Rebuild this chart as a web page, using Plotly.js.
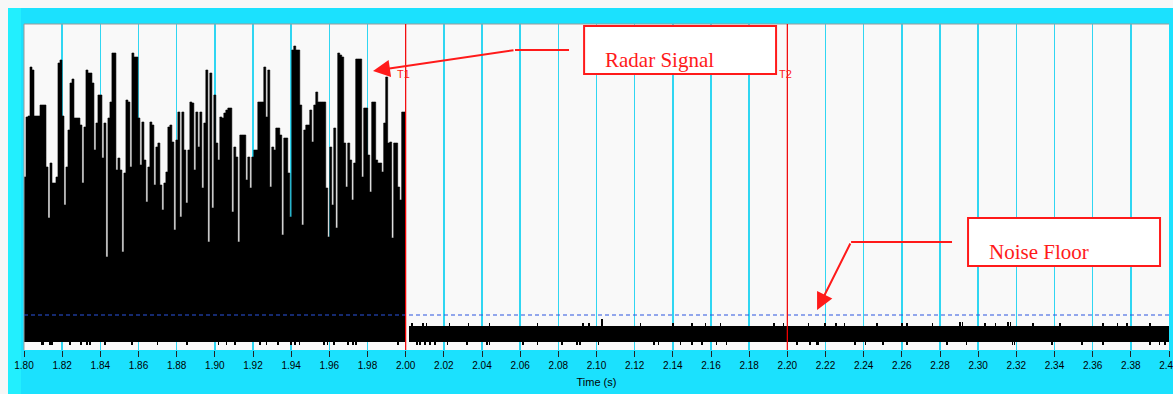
<!DOCTYPE html>
<html>
<head>
<meta charset="utf-8">
<script src="https://cdn.plot.ly/plotly-3.0.1.min.js"></script>
<style>html,body{margin:0;padding:0;background:#f7f7f7;}#chart{width:1173px;height:394px;}</style>
</head>
<body>
<div id="chart"></div>
<script>
// ---- data (amplitude in arbitrary units) ----
const signalStart = 1.80;
const signalEnd = 2.00;
const signalFloor = 8;
const signalPeak = [173,233,234,283,280,234,234,234,245,245,
245,183,132,187,167,167,173,287,290,234,
145,183,220,267,271,232,232,232,225,167,
223,280,277,277,267,200,227,255,255,192,
227,93,232,248,297,297,180,192,180,98,
177,250,248,183,297,293,293,232,185,228,
190,148,183,228,225,165,203,207,165,140,
167,178,223,225,208,120,210,238,133,238,
200,147,200,248,247,180,238,203,238,162,
227,280,108,277,142,255,207,190,233,232,
237,240,242,242,138,203,193,108,215,215,
215,170,193,162,193,200,200,248,248,248,
283,233,280,163,203,200,222,222,215,115,
212,212,177,133,300,304,300,300,245,125,
220,225,225,240,208,245,258,248,248,248,
248,162,113,203,145,222,122,297,295,293,
207,163,207,190,150,187,291,291,291,173,
242,242,195,158,248,248,190,187,187,178,
227,273,207,208,112,207,207,163,150,238,
238];
const signalDipTimes = [1.8094,1.810,1.8136,1.8147,1.824,1.830,1.833,1.8346,1.8425,1.8566,1.870,1.8854,1.902,1.906,1.9107,1.9237,1.927,1.9331,1.940,1.942,1.9443,1.9572,1.959,1.9624,1.9698,1.9723,1.974,1.996];
const dipLevel = 5;

const noiseStart = 2.0015;
const noiseEnd = 2.40;
const noiseLow = 8;
const noiseHigh = 24;
const noiseUpTimes = [2.0034,2.009,2.011,2.023,2.033,2.044,2.069,2.093,2.096,2.103,2.123,2.140,2.150,2.157,2.165,2.193,2.198,2.211,2.2198,2.2256,2.230,2.247,2.260,2.2626,2.276,2.2906,2.2918,2.3037,2.309,2.3157,2.3169,2.3288,2.343,2.3655,2.373,2.378,2.390];
const noiseUpPeaks = [27,27,27,27,27,27,27,27,27,31,27,27,27,27,27,27,27,27,27,27,27,27,27,27,27,28,28,27,27,28,28,27,27,27,27,27,27];
const noiseDownTimes = [2.006,2.0075,2.010,2.0128,2.0154,2.022,2.032,2.0427,2.044,2.0615,2.069,2.082,2.0898,2.0914,2.101,2.130,2.1325,2.144,2.150,2.1553,2.163,2.168,2.205,2.212,2.2156,2.216,2.2355,2.241,2.250,2.2626,2.2837,2.294,2.318,2.319,2.3388,2.3545,2.3655,2.390,2.395,2.398];

const noiseFloorLevel = 35;
const markerTimes = [2.00, 2.20];
const markerLabels = ['T1', 'T2'];
const calloutTexts = ['Radar Signal', 'Noise Floor'];

// ---- build traces ----
const N = signalPeak.length;
const dt = (signalEnd - signalStart) / N;
const edgeX = [];
for (let i = 0; i <= N; i++) edgeX.push(signalStart + i * dt);
const stepY = signalPeak.concat([signalPeak[N - 1]]);
const spikeW = 0.0008;

const traces = [
  { type: 'scatter', mode: 'lines', x: edgeX, y: edgeX.map(() => signalFloor), line: { width: 0, color: 'rgba(0,0,0,0)' }, hoverinfo: 'skip' },
  { type: 'scatter', mode: 'lines', x: edgeX, y: stepY, line: { shape: 'hv', width: 0.6, color: '#000' },
    fill: 'tonexty', fillcolor: '#000', hoverinfo: 'skip' },
  { type: 'bar', x: signalDipTimes, y: signalDipTimes.map(() => signalFloor - dipLevel + 1), base: signalDipTimes.map(() => dipLevel),
    width: signalDipTimes.map(() => spikeW), marker: { color: '#000', line: { width: 0 } }, hoverinfo: 'skip' },
  { type: 'bar', x: [(noiseStart + noiseEnd) / 2], y: [noiseHigh - noiseLow], base: [noiseLow],
    width: [noiseEnd - noiseStart], marker: { color: '#000', line: { width: 0 } }, hoverinfo: 'skip' },
  { type: 'bar', x: noiseUpTimes, y: noiseUpPeaks.map(v => v - noiseLow), base: noiseUpTimes.map(() => noiseLow),
    width: noiseUpTimes.map(() => spikeW), marker: { color: '#000', line: { width: 0 } }, hoverinfo: 'skip' },
  { type: 'bar', x: noiseDownTimes, y: noiseDownTimes.map(() => noiseLow - dipLevel + 1), base: noiseDownTimes.map(() => dipLevel),
    width: noiseDownTimes.map(() => spikeW), marker: { color: '#000', line: { width: 0 } }, hoverinfo: 'skip' }
];

const red = '#ff1a1a';
const shapes = [
  { type: 'rect', xref: 'paper', yref: 'paper', x0: -0.05, x1: 1.05, y0: 1.0491, y1: 1.2, fillcolor: '#f7f7f7', line: { width: 0 }, layer: 'below' },
  { type: 'rect', xref: 'paper', yref: 'paper', x0: -0.05, x1: -0.01397, y0: -0.3, y1: 1.0491, fillcolor: '#f7f7f7', line: { width: 0 }, layer: 'below' },
  { type: 'rect', xref: 'paper', yref: 'paper', x0: -0.01397, x1: -0.0026, y0: -0.3, y1: 1.0491, fillcolor: '#22effe', line: { width: 0 }, layer: 'below' },
  { type: 'line', xref: 'paper', yref: 'paper', x0: 0, x1: 0, y0: 0, y1: 1, line: { color: '#9a9a9a', width: 1 } },
  { type: 'line', xref: 'paper', yref: 'paper', x0: 0, x1: 1, y0: 1, y1: 1, line: { color: '#9a9a9a', width: 1 } },
  { type: 'line', xref: 'x', yref: 'y', x0: 1.80, x1: 2.40, y0: noiseFloorLevel, y1: noiseFloorLevel, line: { color: '#2a55e0', width: 1.2, dash: '4px,3px' } },
  { type: 'rect', xref: 'x', yref: 'y', x0: 2.0935, x1: 2.1941, y0: 276, y1: 324, fillcolor: '#ffffff', line: { color: red, width: 2 } },
  { type: 'rect', xref: 'x', yref: 'y', x0: 2.2947, x1: 2.3953, y0: 84, y1: 132, fillcolor: '#ffffff', line: { color: red, width: 2 } },
  { type: 'line', xref: 'x', yref: 'y', x0: 2.0573, x1: 2.0856, y0: 300, y1: 300, line: { color: red, width: 2 } },
  { type: 'line', xref: 'x', yref: 'y', x0: 2.2334, x1: 2.2863, y0: 108, y1: 108, line: { color: red, width: 2 } }
];
markerTimes.forEach(t => shapes.push({ type: 'line', xref: 'x', yref: 'paper', x0: t, x1: t, y0: 0, y1: 1, line: { color: '#ff0000', width: 1.2 } }));

const annotations = [
  { x: 2.1035, y: 290, xref: 'x', yref: 'y', text: calloutTexts[0], showarrow: false, xanchor: 'left', yanchor: 'middle',
    font: { family: 'Liberation Serif, Times New Roman, serif', size: 21, color: red } },
  { x: 2.3047, y: 98, xref: 'x', yref: 'y', text: calloutTexts[1], showarrow: false, xanchor: 'left', yanchor: 'middle',
    font: { family: 'Liberation Serif, Times New Roman, serif', size: 21, color: red } },
  { x: 1.9829, y: 279, ax: 2.0573, ay: 300, xref: 'x', yref: 'y', axref: 'x', ayref: 'y', text: '', showarrow: true,
    arrowhead: 2, arrowsize: 1.7, arrowwidth: 2, arrowcolor: red, standoff: 0, startstandoff: 0 },
  { x: 2.2156, y: 40, ax: 2.2334, ay: 108, xref: 'x', yref: 'y', axref: 'x', ayref: 'y', text: '', showarrow: true,
    arrowhead: 2, arrowsize: 1.7, arrowwidth: 2, arrowcolor: red, standoff: 0, startstandoff: 0 }
];
markerTimes.forEach((t, i) => annotations.push({ x: t, y: 276, xref: 'x', yref: 'y', text: markerLabels[i], showarrow: false,
  xanchor: 'center', yanchor: 'middle', xshift: -2, font: { family: 'Liberation Sans, Arial, sans-serif', size: 11, color: red } }));

const layout = {
  width: 1173, height: 394,
  margin: { l: 24, r: 4, t: 24, b: 44, pad: 0 },
  paper_bgcolor: '#1be1fe', plot_bgcolor: '#f9f9f9',
  showlegend: false, barmode: 'overlay', bargap: 0,
  xaxis: {
    range: [1.80, 2.40], tick0: 1.80, dtick: 0.02, tickformat: '.2f',
    showgrid: true, gridcolor: '#30d6f2', gridwidth: 1.5, zeroline: false, showline: false,
    ticks: 'outside', ticklen: 6, tickwidth: 1, tickcolor: '#222', ticklabeloverflow: 'allow',
    tickfont: { family: 'Liberation Sans, Arial, sans-serif', size: 10, color: '#000' },
    title: { text: 'Time (s)', font: { family: 'Liberation Sans, Arial, sans-serif', size: 11, color: '#000' }, standoff: 8 },
    fixedrange: true
  },
  yaxis: { range: [0, 326], showgrid: false, zeroline: false, showticklabels: false, ticks: '', showline: false, fixedrange: true },
  shapes: shapes,
  annotations: annotations
};

Plotly.newPlot('chart', traces, layout, { displayModeBar: false, staticPlot: true });
</script>
</body>
</html>
